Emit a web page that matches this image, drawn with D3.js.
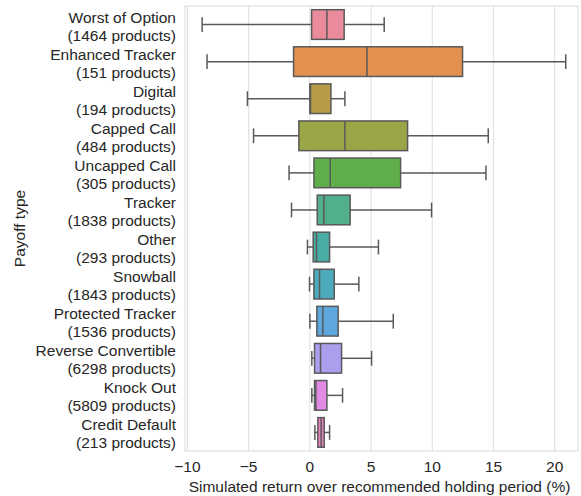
<!DOCTYPE html>
<html>
<head>
<meta charset="utf-8">
<script src="https://cdn.jsdelivr.net/npm/d3@7"></script>
<style>
  body { margin: 0; background: #fff; }
  svg { font-family: "Liberation Sans", Arial, sans-serif; }
</style>
</head>
<body>
<svg width="581" height="496"></svg>
<script>
// payoff types and product counts
var types = ["Worst of Option", "Enhanced Tracker", "Digital", "Capped Call", "Uncapped Call",
    "Tracker", "Other", "Snowball", "Protected Tracker", "Reverse Convertible", "Knock Out", "Credit Default"];
var counts = [1464, 151, 194, 484, 305, 1838, 293, 1843, 1536, 6298, 5809, 213];

// box stats (%)
var whiskerLow  = [-8.8, -8.4, -5.1, -4.6, -1.7, -1.5, -0.2, -0.03, 0.0, 0.16, 0.16, 0.41];
var q1          = [0.14, -1.33, 0.0, -0.9, 0.33, 0.6, 0.27, 0.33, 0.57, 0.38, 0.38, 0.65];
var median      = [1.39, 4.66, 0.05, 2.86, 1.66, 1.14, 0.54, 0.79, 1.06, 0.87, 0.49, 0.92];
var q3          = [2.8, 12.47, 1.72, 7.98, 7.41, 3.29, 1.61, 1.99, 2.31, 2.59, 1.39, 1.17];
var whiskerHigh = [6.07, 20.9, 2.86, 14.57, 14.38, 9.94, 5.6, 4.0, 6.81, 5.04, 2.67, 1.61];

var colors = ["#e98b9b", "#e29150", "#b89a48", "#9aa547", "#5fae4a", "#4fb08b",
    "#4aada5", "#4caabb", "#5ea6de", "#ac9ded", "#e28be6", "#e584c0"];

var xTicks = [-10, -5, 0, 5, 10, 15, 20];

d3.select(window).on('load', init);

function init() {
    var svg = d3.select('svg');
    var margin = {top: 6, right: 3, bottom: 45, left: 185};
    var width = 581 - margin.left - margin.right;
    var height = 496 - margin.top - margin.bottom;
    var fs = 15.5;

    var g = svg.append("g")
        .attr("transform", "translate(" + margin.left + "," + margin.top + ")");

    var data = types.map(function(t, i) {
        return {type: t, n: counts[i], lo: whiskerLow[i], q1: q1[i], med: median[i],
            q3: q3[i], hi: whiskerHigh[i], color: colors[i]};
    });

    var x = d3.scaleLinear().domain([-10.2, 21.9]).range([0, width]);
    var y = d3.scaleBand().domain(types).range([0, height]).paddingInner(0.2).paddingOuter(0.1);

    // grid
    g.selectAll('.grid')
        .data(xTicks)
        .enter()
        .append('line')
        .attr('x1', function(d){ return x(d); })
        .attr('x2', function(d){ return x(d); })
        .attr('y1', 0)
        .attr('y2', height)
        .attr('stroke', '#e3e3e3')
        .attr('stroke-width', 1.2);

    // frame
    g.append('rect')
        .attr('width', width)
        .attr('height', height)
        .attr('fill', 'none')
        .attr('stroke', '#e0e0e0')
        .attr('stroke-width', 1.2);

    var lineColor = '#595959';
    var bw = y.bandwidth();
    var box = g.selectAll('.box')
        .data(data)
        .enter()
        .append('g')
        .attr('transform', function(d){ return "translate(0," + y(d.type) + ")"; });

    // whiskers
    box.append('line')
        .attr('x1', function(d){ return x(d.lo); })
        .attr('x2', function(d){ return x(d.q1); })
        .attr('y1', bw / 2).attr('y2', bw / 2)
        .attr('stroke', lineColor).attr('stroke-width', 1.5);
    box.append('line')
        .attr('x1', function(d){ return x(d.q3); })
        .attr('x2', function(d){ return x(d.hi); })
        .attr('y1', bw / 2).attr('y2', bw / 2)
        .attr('stroke', lineColor).attr('stroke-width', 1.5);
    // caps
    box.selectAll('.cap')
        .data(function(d){ return [d.lo, d.hi]; })
        .enter()
        .append('line')
        .attr('x1', function(v){ return x(v); })
        .attr('x2', function(v){ return x(v); })
        .attr('y1', bw / 2 - bw / 4).attr('y2', bw / 2 + bw / 4)
        .attr('stroke', lineColor).attr('stroke-width', 1.5);
    // boxes
    box.append('rect')
        .attr('x', function(d){ return x(d.q1); })
        .attr('width', function(d){ return x(d.q3) - x(d.q1); })
        .attr('y', 0)
        .attr('height', bw)
        .attr('fill', function(d){ return d.color; })
        .attr('stroke', lineColor)
        .attr('stroke-width', 1.5);
    // medians
    box.append('line')
        .attr('x1', function(d){ return x(d.med); })
        .attr('x2', function(d){ return x(d.med); })
        .attr('y1', 0).attr('y2', bw)
        .attr('stroke', lineColor).attr('stroke-width', 1.5);

    // x axis labels
    g.selectAll('.xtick')
        .data(xTicks)
        .enter()
        .append('text')
        .attr('x', function(d){ return x(d); })
        .attr('y', height + 21)
        .attr('text-anchor', 'middle')
        .attr('font-size', fs)
        .attr('fill', '#262626')
        .text(d3.format('d'));

    g.append('text')
        .attr('x', (x(-10.2) + x(21.9)) / 2 - 2)
        .attr('y', height + 41)
        .attr('text-anchor', 'middle')
        .attr('font-size', fs)
        .attr('fill', '#262626')
        .text('Simulated return over recommended holding period (%)');

    // y labels
    var yl = g.selectAll('.ylab')
        .data(data)
        .enter()
        .append('text')
        .attr('text-anchor', 'end')
        .attr('font-size', fs)
        .attr('fill', '#262626')
        .attr('transform', function(d){ return "translate(-9," + (y(d.type) + bw / 2) + ")"; });
    yl.append('tspan').attr('x', 0).attr('y', -2).text(function(d){ return d.type; });
    yl.append('tspan').attr('x', 0).attr('y', 16).text(function(d){ return "(" + d.n + " products)"; });

    svg.append('text')
        .attr('transform', "translate(25," + (margin.top + height / 2) + ") rotate(-90)")
        .attr('text-anchor', 'middle')
        .attr('font-size', fs)
        .attr('fill', '#262626')
        .text('Payoff type');
}
</script>
</body>
</html>
